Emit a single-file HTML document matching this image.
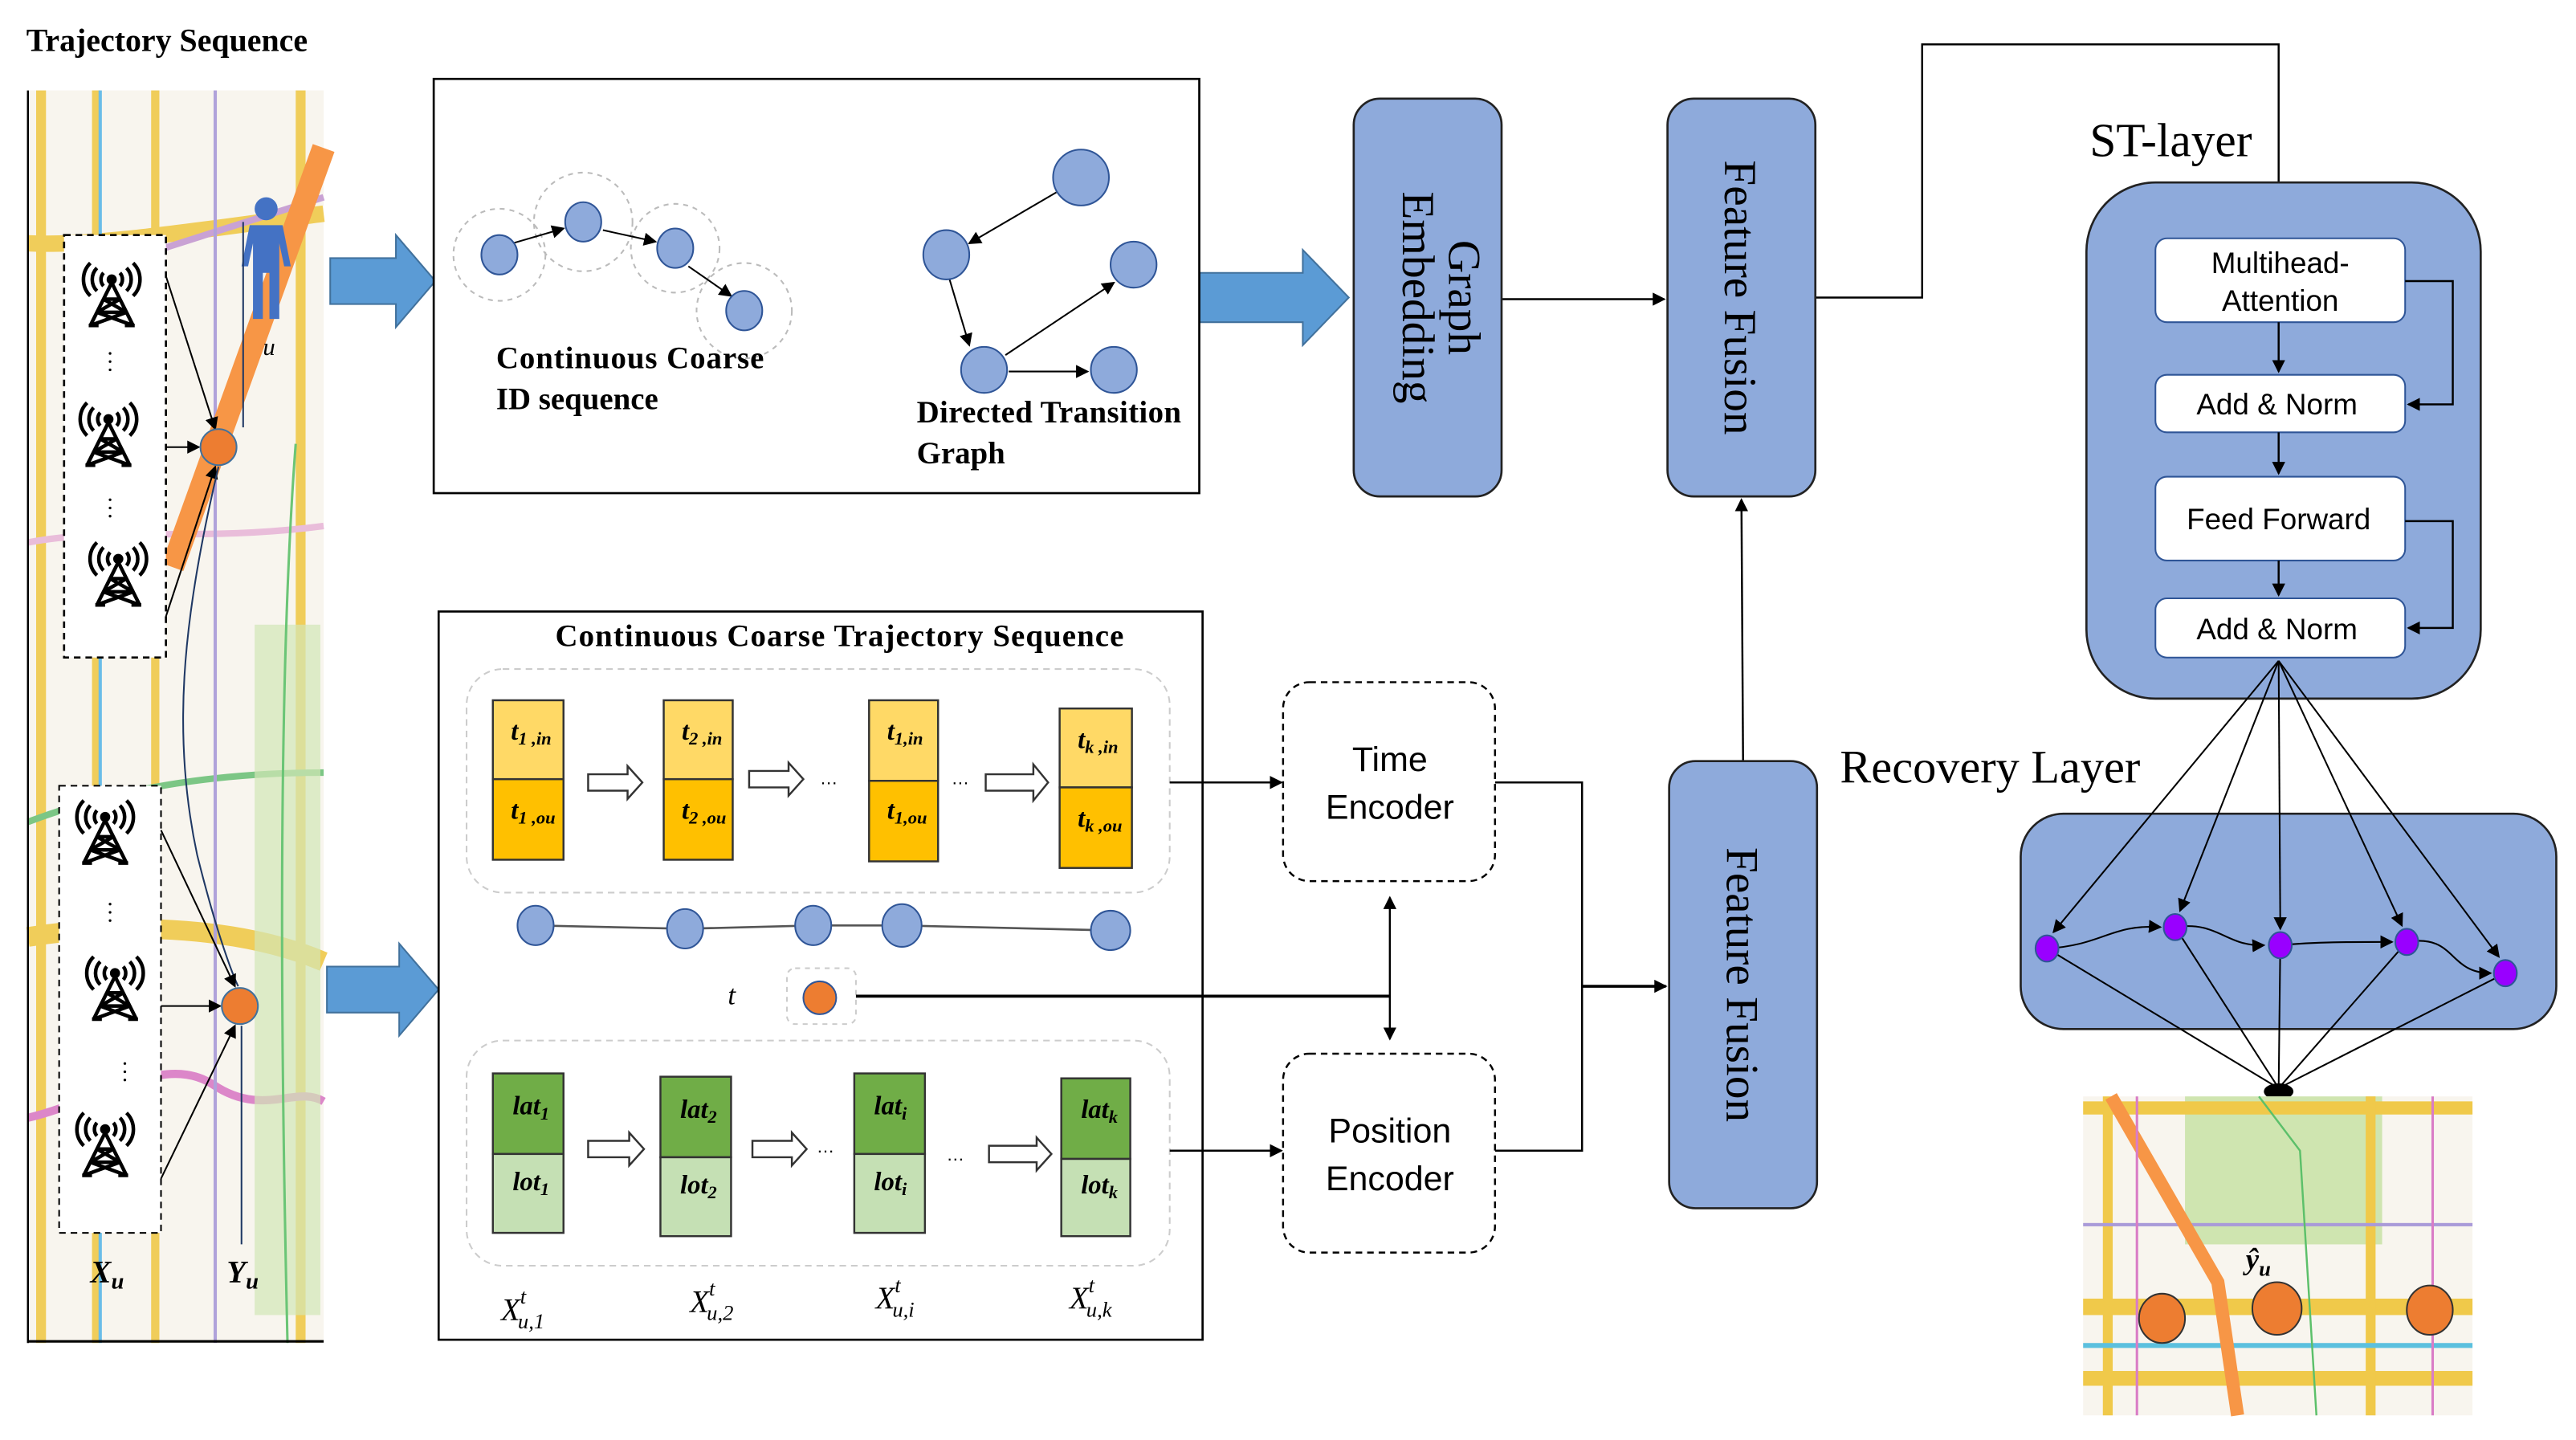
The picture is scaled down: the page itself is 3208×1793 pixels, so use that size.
<!DOCTYPE html>
<html><head><meta charset="utf-8"><style>
html,body{margin:0;padding:0;background:#fff;}
svg{display:block;}
.serif{font-family:"Liberation Serif",serif;}
.sans{font-family:"Liberation Sans",sans-serif;}
</style></head><body>
<svg width="3208" height="1793" viewBox="0 0 1568 876" preserveAspectRatio="none" xmlns="http://www.w3.org/2000/svg">
<defs>
<marker id="ar" markerWidth="8" markerHeight="8" refX="7" refY="4" orient="auto" markerUnits="userSpaceOnUse"><path d="M0,0 L8,4 L0,8 z" fill="#000"/></marker>
<marker id="ar2" markerWidth="8" markerHeight="8" refX="1" refY="4" orient="auto" markerUnits="userSpaceOnUse"><path d="M8,0 L0,4 L8,8 z" fill="#000"/></marker>
<g id="tower" stroke="#000" stroke-width="2.2" fill="none">
<path d="M0,-8 L-13,18 M0,-8 L13,18 M-9,10 L9,10 M-5,2 L5,2 M-9,10 L5,2 M9,10 L-5,2 M-13,18 L9,10 M13,18 L-9,10 M-14,18 L-8,18 M8,18 L14,18"/>
<path d="M-5,-14 a6,6 0 0 0 0,8 M5,-14 a6,6 0 0 1 0,8 M-9,-17 a10,10 0 0 0 0,14 M9,-17 a10,10 0 0 1 0,14 M-13,-20 a14,14 0 0 0 0,20 M13,-20 a14,14 0 0 1 0,20"/>
<circle cx="0" cy="-10" r="2" fill="#000"/>
</g>
</defs>
<text x="16" y="31" class="serif" font-weight="bold" font-size="19.5">Trajectory  Sequence</text>

<rect x="17" y="55" width="180" height="762" fill="#f8f5ee"/>
<g opacity="0.9">
<rect x="22" y="55" width="6" height="762" fill="#f0c94a"/>
<rect x="56" y="55" width="5" height="762" fill="#f0c94a"/>
<rect x="92" y="55" width="5" height="762" fill="#f0c94a"/>
<rect x="180" y="55" width="6" height="762" fill="#f0c94a"/>
<path d="M17,148 C60,150 120,140 197,130" stroke="#f0c94a" stroke-width="10" fill="none"/>
<path d="M17,570 C80,560 150,565 197,585" stroke="#f0c94a" stroke-width="12" fill="none"/>
<path d="M17,500 C70,480 130,470 197,470" stroke="#6fc27a" stroke-width="4" fill="none"/>
<path d="M17,680 C60,670 100,640 130,660 C160,680 180,660 197,670" stroke="#d97cc6" stroke-width="5" fill="none"/>
<path d="M17,330 C70,320 120,330 197,320" stroke="#e8b7d8" stroke-width="4" fill="none"/>
<path d="M40,170 L197,120" stroke="#c49ad2" stroke-width="4" fill="none"/>
<rect x="60" y="55" width="2" height="762" fill="#5bb7e8"/>
<rect x="130" y="55" width="2" height="762" fill="#a99ad8"/>
<rect x="155" y="380" width="40" height="420" fill="#cfe5b0" opacity="0.7"/>
<path d="M180,270 C170,400 170,600 175,817" stroke="#5cc06a" stroke-width="1.5" fill="none"/>
</g>
<path d="M197,90 L105,345" stroke="#f79646" stroke-width="14" fill="none"/>
<rect x="39" y="143" width="62" height="257" fill="#fff" stroke="#000" stroke-width="1.3" stroke-dasharray="4,3"/>
<rect x="36" y="478" width="62" height="272" fill="#fff" stroke="#000" stroke-width="1" stroke-dasharray="4,3"/>
<use href="#tower" x="68" y="180"/>
<use href="#tower" x="66" y="265"/>
<use href="#tower" x="72" y="350"/>
<use href="#tower" x="64" y="507"/>
<use href="#tower" x="70" y="602"/>
<use href="#tower" x="64" y="697"/>
<g fill="#000"><circle cx="67" cy="215" r="0.8"/><circle cx="67" cy="220" r="0.8"/><circle cx="67" cy="225" r="0.8"/>
<circle cx="67" cy="304" r="0.8"/><circle cx="67" cy="309" r="0.8"/><circle cx="67" cy="314" r="0.8"/>
<circle cx="67" cy="550" r="0.8"/><circle cx="67" cy="555" r="0.8"/><circle cx="67" cy="560" r="0.8"/>
<circle cx="76" cy="647" r="0.8"/><circle cx="76" cy="652" r="0.8"/><circle cx="76" cy="657" r="0.8"/></g>
<g fill="#4472c4"><circle cx="162" cy="127" r="7"/><path d="M152,137 h20 l5,25 h-4 l-3,-14 v46 h-6 v-28 h-4 v28 h-6 v-46 l-3,14 h-4 z"/></g>
<text x="160" y="216" class="serif" font-style="italic" font-size="15">u</text>
<line x1="148" y1="135" x2="148" y2="260" stroke="#1f3864" stroke-width="1"/>
<line x1="101" y1="168" x2="131" y2="261" stroke="#000" stroke-width="1" marker-end="url(#ar)"/>
<line x1="101" y1="272" x2="121" y2="272" stroke="#000" stroke-width="1" marker-end="url(#ar)"/>
<line x1="101" y1="375" x2="131" y2="284" stroke="#000" stroke-width="1" marker-end="url(#ar)"/>
<path d="M133,284 C110,380 105,450 120,520 C135,580 145,600 145,600" stroke="#1f3864" stroke-width="1" fill="none"/>
<circle cx="133" cy="272" r="11" fill="#ed7d31" stroke="#41719c" stroke-width="1"/>
<line x1="98" y1="505" x2="143" y2="600" stroke="#000" stroke-width="1" marker-end="url(#ar)"/>
<line x1="98" y1="612" x2="134" y2="612" stroke="#000" stroke-width="1" marker-end="url(#ar)"/>
<line x1="98" y1="717" x2="143" y2="624" stroke="#000" stroke-width="1" marker-end="url(#ar)"/>
<line x1="147" y1="624" x2="147" y2="757" stroke="#1f3864" stroke-width="1"/>
<circle cx="146" cy="612" r="11" fill="#ed7d31" stroke="#41719c" stroke-width="1"/>
<text x="55" y="780" class="serif" font-weight="bold" font-style="italic" font-size="19">X<tspan font-size="14" dy="4">u</tspan></text>
<text x="138" y="780" class="serif" font-weight="bold" font-style="italic" font-size="19">Y<tspan font-size="14" dy="4">u</tspan></text>
<line x1="17" y1="55" x2="17" y2="817" stroke="#000" stroke-width="1.2"/>
<line x1="17" y1="816" x2="197" y2="816" stroke="#000" stroke-width="1.5"/>

<g fill="#5b9bd5" stroke="#41719c" stroke-width="1">
<path d="M201,157 h40 v-14 l24,28 l-24,28 v-14 h-40 z"/>
<path d="M199,588 h44 v-14 l24,28 l-24,28 v-14 h-44 z"/>
<path d="M490,162 h46 v-14 l25,26 l-25,26 v-14 h-46 z"/>
<path d="M730,166 h63 v-14 l28,29 l-28,29 v-14 h-63 z"/>
</g>

<rect x="264" y="48" width="466" height="252" fill="#fff" stroke="#000" stroke-width="1.3"/>
<g fill="none" stroke="#bbb" stroke-width="1" stroke-dasharray="3,3">
<circle cx="304" cy="155" r="28"/><circle cx="355" cy="135" r="30"/><circle cx="411" cy="151" r="27"/><circle cx="453" cy="189" r="29"/>
</g>
<g stroke="#000" stroke-width="1">
<line x1="312" y1="148" x2="343" y2="139" marker-end="url(#ar)"/>
<line x1="367" y1="140" x2="399" y2="147" marker-end="url(#ar)"/>
<line x1="419" y1="162" x2="445" y2="180" marker-end="url(#ar)"/>
<line x1="643" y1="117" x2="590" y2="148" marker-end="url(#ar)"/>
<line x1="578" y1="170" x2="590" y2="210" marker-end="url(#ar)"/>
<line x1="612" y1="216" x2="678" y2="172" marker-end="url(#ar)"/>
<line x1="614" y1="226" x2="662" y2="226" marker-end="url(#ar)"/>
</g>
<g fill="#8eaadb" stroke="#2f5597" stroke-width="1">
<ellipse cx="304" cy="155" rx="11" ry="12"/><ellipse cx="355" cy="135" rx="11" ry="12"/><ellipse cx="411" cy="151" rx="11" ry="12"/><ellipse cx="453" cy="189" rx="11" ry="12"/>
<ellipse cx="658" cy="108" rx="17" ry="17"/><ellipse cx="576" cy="155" rx="14" ry="15"/><ellipse cx="690" cy="161" rx="14" ry="14"/><ellipse cx="599" cy="225" rx="14" ry="14"/><ellipse cx="678" cy="225" rx="14" ry="14"/>
</g>
<text x="302" y="224" class="serif" font-weight="bold" font-size="19" textLength="163">Continuous  Coarse</text>
<text x="302" y="249" class="serif" font-weight="bold" font-size="19">ID sequence</text>
<text x="558" y="257" class="serif" font-weight="bold" font-size="19" textLength="161">Directed Transition</text>
<text x="558" y="282" class="serif" font-weight="bold" font-size="19">Graph</text>

<rect x="267" y="372" width="465" height="443" fill="#fff" stroke="#000" stroke-width="1.3"/>
<text x="338" y="393" class="serif" font-weight="bold" font-size="19" textLength="346">Continuous  Coarse Trajectory  Sequence</text>
<rect x="284" y="407" width="428" height="136" rx="22" fill="none" stroke="#ccc" stroke-dasharray="4,3"/>
<rect x="284" y="633" width="428" height="137" rx="22" fill="none" stroke="#ccc" stroke-dasharray="4,3"/>
<g stroke="#333" stroke-width="1.2">
<rect x="300" y="426" width="43" height="48" fill="#ffd966"/><rect x="300" y="474" width="43" height="49" fill="#ffc000"/>
<rect x="404" y="426" width="42" height="48" fill="#ffd966"/><rect x="404" y="474" width="42" height="49" fill="#ffc000"/>
<rect x="529" y="426" width="42" height="49" fill="#ffd966"/><rect x="529" y="475" width="42" height="49" fill="#ffc000"/>
<rect x="645" y="431" width="44" height="48" fill="#ffd966"/><rect x="645" y="479" width="44" height="49" fill="#ffc000"/>
<rect x="300" y="653" width="43" height="49" fill="#70ad47"/><rect x="300" y="702" width="43" height="48" fill="#c5e0b4"/>
<rect x="402" y="655" width="43" height="49" fill="#70ad47"/><rect x="402" y="704" width="43" height="48" fill="#c5e0b4"/>
<rect x="520" y="653" width="43" height="49" fill="#70ad47"/><rect x="520" y="702" width="43" height="48" fill="#c5e0b4"/>
<rect x="646" y="656" width="42" height="49" fill="#70ad47"/><rect x="646" y="705" width="42" height="47" fill="#c5e0b4"/>
</g>
<g class="serif" font-weight="bold" font-style="italic" font-size="16" fill="#000">
<text x="311" y="450">t<tspan font-size="11" dy="3">1 ,in</tspan></text><text x="311" y="498">t<tspan font-size="11" dy="3">1 ,ou</tspan></text>
<text x="415" y="450">t<tspan font-size="11" dy="3">2 ,in</tspan></text><text x="415" y="498">t<tspan font-size="11" dy="3">2 ,ou</tspan></text>
<text x="540" y="450">t<tspan font-size="11" dy="3">1,in</tspan></text><text x="540" y="498">t<tspan font-size="11" dy="3">1,ou</tspan></text>
<text x="656" y="455">t<tspan font-size="11" dy="3">k ,in</tspan></text><text x="656" y="503">t<tspan font-size="11" dy="3">k ,ou</tspan></text>
<text x="312" y="678">lat<tspan font-size="11" dy="3">1</tspan></text><text x="312" y="724">lot<tspan font-size="11" dy="3">1</tspan></text>
<text x="414" y="680">lat<tspan font-size="11" dy="3">2</tspan></text><text x="414" y="726">lot<tspan font-size="11" dy="3">2</tspan></text>
<text x="532" y="678">lat<tspan font-size="11" dy="3">i</tspan></text><text x="532" y="724">lot<tspan font-size="11" dy="3">i</tspan></text>
<text x="658" y="680">lat<tspan font-size="11" dy="3">k</tspan></text><text x="658" y="726">lot<tspan font-size="11" dy="3">k</tspan></text>
</g>
<g fill="#fff" stroke="#333" stroke-width="1.2">
<path d="M358,471 h24 v-5 l9,10 l-9,10 v-5 h-24 z"/>
<path d="M456,469 h24 v-5 l9,10 l-9,10 v-5 h-24 z"/>
<path d="M600,471 h29 v-6 l9,11 l-9,11 v-6 h-29 z"/>
<path d="M358,694 h25 v-5 l9,10 l-9,10 v-5 h-25 z"/>
<path d="M458,694 h24 v-5 l9,10 l-9,10 v-5 h-24 z"/>
<path d="M602,697 h29 v-5 l9,10 l-9,10 v-5 h-29 z"/>
</g>
<g class="sans" font-size="11"><text x="499" y="477">…</text><text x="579" y="477">…</text><text x="497" y="701">…</text><text x="576" y="706">…</text></g>
<path d="M326,563 L417,565 L495,563 L549,563 L676,566" stroke="#555" stroke-width="1.3" fill="none"/>
<g fill="#8eaadb" stroke="#2f5597" stroke-width="1">
<ellipse cx="326" cy="563" rx="11" ry="12"/><ellipse cx="417" cy="565" rx="11" ry="12"/><ellipse cx="495" cy="563" rx="11" ry="12"/><ellipse cx="549" cy="563" rx="12" ry="13"/><ellipse cx="676" cy="566" rx="12" ry="12"/>
</g>
<text x="443" y="611" class="serif" font-style="italic" font-size="17">t</text>
<rect x="479" y="589" width="42" height="34" rx="5" fill="none" stroke="#ccc" stroke-dasharray="3,3"/>
<circle cx="499" cy="607" r="10" fill="#ed7d31" stroke="#2f5597" stroke-width="1"/>
<g class="serif" font-style="italic" font-size="19">
<text x="305" y="803">X<tspan font-size="13" dy="-10">t</tspan><tspan font-size="13" dx="-5" dy="15">u,1</tspan></text>
<text x="420" y="798">X<tspan font-size="13" dy="-10">t</tspan><tspan font-size="13" dx="-5" dy="15">u,2</tspan></text>
<text x="533" y="796">X<tspan font-size="13" dy="-10">t</tspan><tspan font-size="13" dx="-5" dy="15">u,i</tspan></text>
<text x="651" y="796">X<tspan font-size="13" dy="-10">t</tspan><tspan font-size="13" dx="-5" dy="15">u,k</tspan></text>
</g>

<g stroke="#000" stroke-width="1.2" fill="none">
<line x1="712" y1="476" x2="780" y2="476" marker-end="url(#ar)"/>
<line x1="712" y1="700" x2="780" y2="700" marker-end="url(#ar)"/>
<line x1="521" y1="606" x2="846" y2="606" stroke-width="1.8"/>
<line x1="846" y1="546" x2="846" y2="632" marker-start="url(#ar2)" marker-end="url(#ar)"/>
<polyline points="910,476 963,476 963,700 910,700"/>
<line x1="963" y1="600" x2="1014" y2="600" stroke-width="1.8" marker-end="url(#ar)"/>
<line x1="914" y1="182" x2="1013" y2="182" marker-end="url(#ar)"/>
<line x1="1061" y1="463" x2="1060" y2="304" marker-end="url(#ar)"/>
<polyline points="1105,181 1170,181 1170,27 1387,27 1387,143" marker-end="url(#ar)"/>
</g>

<rect x="781" y="415" width="129" height="121" rx="16" fill="#fff" stroke="#000" stroke-width="1.2" stroke-dasharray="4,3"/>
<rect x="781" y="641" width="129" height="121" rx="16" fill="#fff" stroke="#000" stroke-width="1.2" stroke-dasharray="4,3"/>
<g class="sans" font-size="21" text-anchor="middle"><text x="846" y="469">Time</text><text x="846" y="498">Encoder</text>
<text x="846" y="695">Position</text><text x="846" y="724">Encoder</text></g>

<g fill="#8eaadb" stroke="#222" stroke-width="1.3">
<rect x="824" y="60" width="90" height="242" rx="16"/>
<rect x="1015" y="60" width="90" height="242" rx="16"/>
<rect x="1016" y="463" width="90" height="272" rx="16"/>
</g>
<g class="serif" font-size="28" text-anchor="middle">
<text transform="translate(876,181) rotate(90)" y="-6">Graph</text>
<text transform="translate(876,181) rotate(90)" y="22">Embedding</text>
<text transform="translate(1050,181) rotate(90)">Feature Fusion</text>
<text transform="translate(1051,599) rotate(90)">Feature Fusion</text>
</g>

<text x="1272" y="95" class="serif" font-size="29">ST-layer</text>
<rect x="1270" y="111" width="240" height="314" rx="42" fill="#8eaadb" stroke="#222" stroke-width="1.3"/>
<g fill="#fff" stroke="#2f5597" stroke-width="1">
<rect x="1312" y="145" width="152" height="51" rx="7"/>
<rect x="1312" y="228" width="152" height="35" rx="7"/>
<rect x="1312" y="290" width="152" height="51" rx="7"/>
<rect x="1312" y="364" width="152" height="36" rx="7"/>
</g>
<g class="sans" font-size="18" text-anchor="middle">
<text x="1388" y="166">Multihead-</text><text x="1388" y="189">Attention</text>
<text x="1386" y="252">Add &amp; Norm</text>
<text x="1387" y="322">Feed Forward</text>
<text x="1386" y="389">Add &amp; Norm</text>
</g>
<g stroke="#000" stroke-width="1.2" fill="none">
<line x1="1387" y1="196" x2="1387" y2="226" marker-end="url(#ar)"/>
<line x1="1387" y1="263" x2="1387" y2="288" marker-end="url(#ar)"/>
<line x1="1387" y1="341" x2="1387" y2="362" marker-end="url(#ar)"/>
<polyline points="1464,171 1493,171 1493,246 1466,246" marker-end="url(#ar)"/>
<polyline points="1464,317 1493,317 1493,382 1466,382" marker-end="url(#ar)"/>
</g>

<text x="1120" y="476" class="serif" font-size="28.5">Recovery Layer</text>
<rect x="1230" y="495" width="326" height="131" rx="26" fill="#8eaadb" stroke="#222" stroke-width="1.3"/>
<g stroke="#000" stroke-width="1" fill="none">
<line x1="1387" y1="402" x2="1250" y2="567" marker-end="url(#ar)"/>
<line x1="1387" y1="402" x2="1327" y2="554" marker-end="url(#ar)"/>
<line x1="1387" y1="402" x2="1388" y2="565" marker-end="url(#ar)"/>
<line x1="1387" y1="402" x2="1462" y2="563" marker-end="url(#ar)"/>
<line x1="1387" y1="402" x2="1521" y2="582" marker-end="url(#ar)"/>
<path d="M1246,577 C1280,575 1285,562 1315,564" marker-end="url(#ar)"/>
<path d="M1324,564 C1350,560 1355,576 1378,575" marker-end="url(#ar)"/>
<path d="M1388,575 C1410,573 1430,573 1456,573" marker-end="url(#ar)"/>
<path d="M1465,573 C1495,568 1490,592 1516,592" marker-end="url(#ar)"/>
<line x1="1246" y1="577" x2="1387" y2="662"/>
<line x1="1324" y1="564" x2="1387" y2="662"/>
<line x1="1388" y1="575" x2="1387" y2="662"/>
<line x1="1465" y1="573" x2="1387" y2="662"/>
<line x1="1525" y1="592" x2="1387" y2="662"/>
</g>
<g fill="#9900ff" stroke="#2f5597" stroke-width="1">
<ellipse cx="1246" cy="577" rx="7" ry="8"/><ellipse cx="1324" cy="564" rx="7" ry="8"/><ellipse cx="1388" cy="575" rx="7" ry="8"/><ellipse cx="1465" cy="573" rx="7" ry="8"/><ellipse cx="1525" cy="592" rx="7" ry="8"/>
</g>
<ellipse cx="1387" cy="664" rx="9" ry="5" fill="#000"/>

<rect x="1268" y="667" width="237" height="194" fill="#f8f5ee"/>
<g>
<rect x="1330" y="667" width="120" height="90" fill="#cfe5b0"/>
<rect x="1268" y="670" width="237" height="8" fill="#f0c94a"/>
<rect x="1268" y="790" width="237" height="10" fill="#f0c94a"/>
<rect x="1268" y="834" width="237" height="9" fill="#f0c94a"/>
<rect x="1280" y="667" width="6" height="194" fill="#f0c94a"/>
<rect x="1440" y="667" width="6" height="194" fill="#f0c94a"/>
<rect x="1268" y="744" width="237" height="2" fill="#a99ad8"/>
<rect x="1268" y="817" width="237" height="3" fill="#5bc0de"/>
<path d="M1285,667 L1350,780 L1362,861" stroke="#f79646" stroke-width="8" fill="none"/>
<path d="M1375,667 L1400,700 L1410,861" stroke="#5cc06a" stroke-width="1.2" fill="none"/>
<rect x="1480" y="667" width="1.5" height="194" fill="#d97cc6"/>
<rect x="1300" y="667" width="1.5" height="194" fill="#d97cc6"/>
</g>
<text x="1367" y="772" class="serif" font-weight="bold" font-style="italic" font-size="18">ŷ<tspan font-size="13" dy="4">u</tspan></text>
<g fill="#ed7d31" stroke="#333" stroke-width="1">
<ellipse cx="1316" cy="802" rx="14" ry="15"/><ellipse cx="1386" cy="796" rx="15" ry="16"/><ellipse cx="1479" cy="797" rx="14" ry="15"/>
</g>
</svg>
</body></html>
